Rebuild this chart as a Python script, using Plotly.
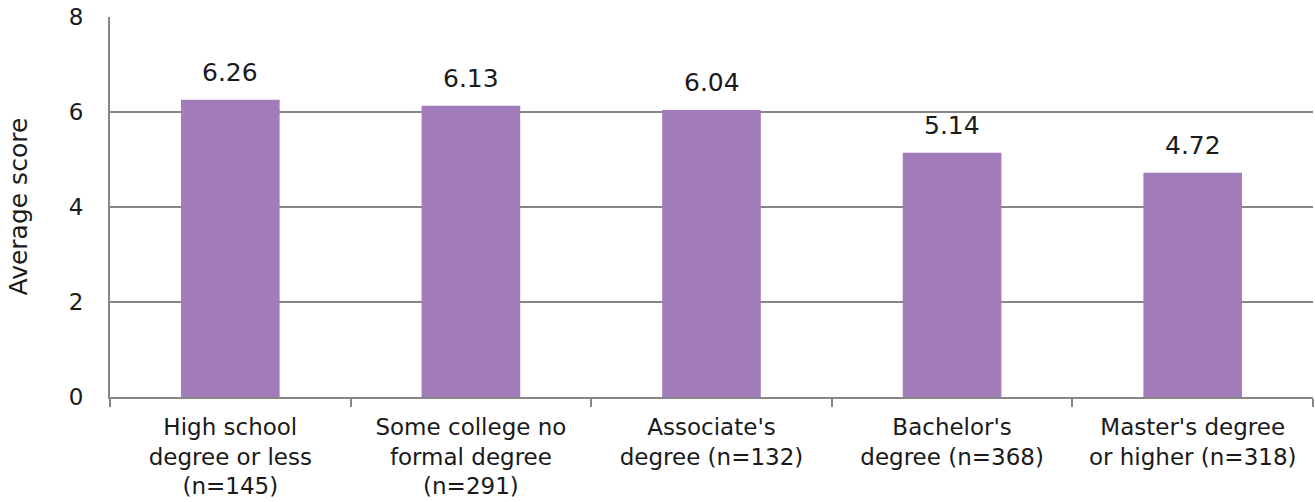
import plotly.graph_objects as go

categories = [
    "High school<br>degree or less<br>(n=145)",
    "Some college no<br>formal degree<br>(n=291)",
    "Associate's<br>degree (n=132)",
    "Bachelor's<br>degree (n=368)",
    "Master's degree<br>or higher (n=318)",
]
scores = [6.26, 6.13, 6.04, 5.14, 4.72]
labels = ["6.26", "6.13", "6.04", "5.14", "4.72"]

font_family = "'DejaVu Sans', sans-serif"
grey = "#868686"
ink = "#1a1a1a"

fig = go.Figure(go.Bar(
    x=categories, y=scores,
    marker=dict(color="#A27BBB", line=dict(width=0)),
    width=0.41,
))

# value labels above the bars
for cat, val, lab in zip(categories, scores, labels):
    fig.add_annotation(
        x=cat, y=val, text=lab, showarrow=False,
        yanchor="bottom", yshift=11,
        font=dict(size=25, color=ink),
    )

fig.update_layout(
    width=1315, height=502,
    margin=dict(l=110, r=2, t=17, b=105),
    plot_bgcolor="white", paper_bgcolor="white",
    font=dict(family=font_family, size=24, color=ink),
    showlegend=False,
)

fig.update_xaxes(
    automargin=False,
    showline=True, linecolor=grey, linewidth=2,
    ticks="outside", tickson="boundaries", ticklen=8,
    tickcolor=grey, tickwidth=2,
    showgrid=False,
    tickfont=dict(size=23), ticklabelstandoff=8,
)

fig.update_yaxes(
    automargin=False,
    range=[0, 8], tickvals=[0, 2, 4, 6, 8],
    showline=True, linecolor=grey, linewidth=2,
    showgrid=True, gridcolor=grey, gridwidth=2,
    zeroline=False,
    ticks="", ticklabelstandoff=20, ticklabeloverflow="allow",
    tickfont=dict(size=23),
)

# y axis title placed by hand so the plot area stays put
fig.add_annotation(
    text="Average score", textangle=-90,
    xref="paper", yref="paper", x=0, y=0.5,
    xanchor="right", yanchor="middle", xshift=-76,
    showarrow=False, font=dict(size=25, color=ink),
)

# drop the default 8px body margin so the figure fills the window
fig.write_html(
    "out.html",
    config={"displayModeBar": False},
    post_script="document.body.style.margin = '0';",
)
